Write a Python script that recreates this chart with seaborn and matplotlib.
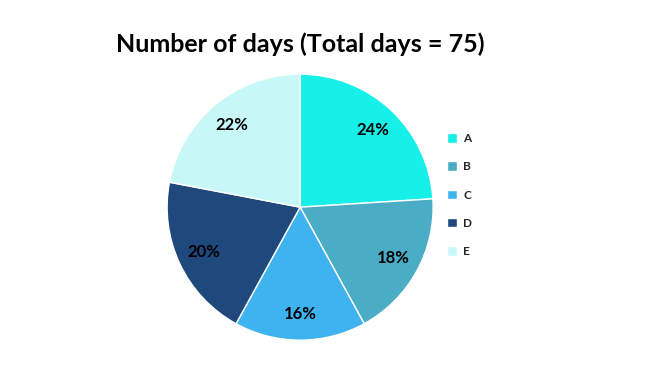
import matplotlib
matplotlib.use("Agg")
import matplotlib.pyplot as plt
import seaborn as sns
from matplotlib.patches import Patch

categories = ["A", "B", "C", "D", "E"]
shares = [24, 18, 16, 20, 22]
colors = ["#17EFE9", "#4BACC6", "#3FB3F0", "#1F487C", "#C8F7F7"]

sns.set_style("white")
plt.rcParams["font.family"] = ["Lato", "DejaVu Sans"]

fig = plt.figure(figsize=(6.51, 3.78), dpi=100)
ax = fig.add_axes([0.461 - 0.2043, 0.452 - 0.3519, 0.4086, 0.7037])

wedges, texts, autotexts = ax.pie(
    shares, colors=colors, startangle=90, counterclock=False,
    autopct="%d%%", pctdistance=0.8,
    wedgeprops=dict(edgecolor="white", linewidth=1),
    textprops=dict(fontsize=12, fontweight="bold", color="black"),
)
ax.set_xlim(-1, 1)
ax.set_ylim(-1, 1)
ax.set_aspect("equal")

fig.text(0.461, 0.882, "Number of days (Total days = 75)", ha="center", va="center",
         fontsize=18, fontweight="bold", color="black")

handles = [Patch(facecolor=c, label=l) for c, l in zip(colors, categories)]
fig.legend(handles=handles, loc="center left", bbox_to_anchor=(0.67, 0.484),
           frameon=False, prop=dict(weight="bold", size=8.5),
           handlelength=0.9, handleheight=0.9, labelspacing=1.45, handletextpad=0.5)

fig.savefig("out.png", dpi=100)
